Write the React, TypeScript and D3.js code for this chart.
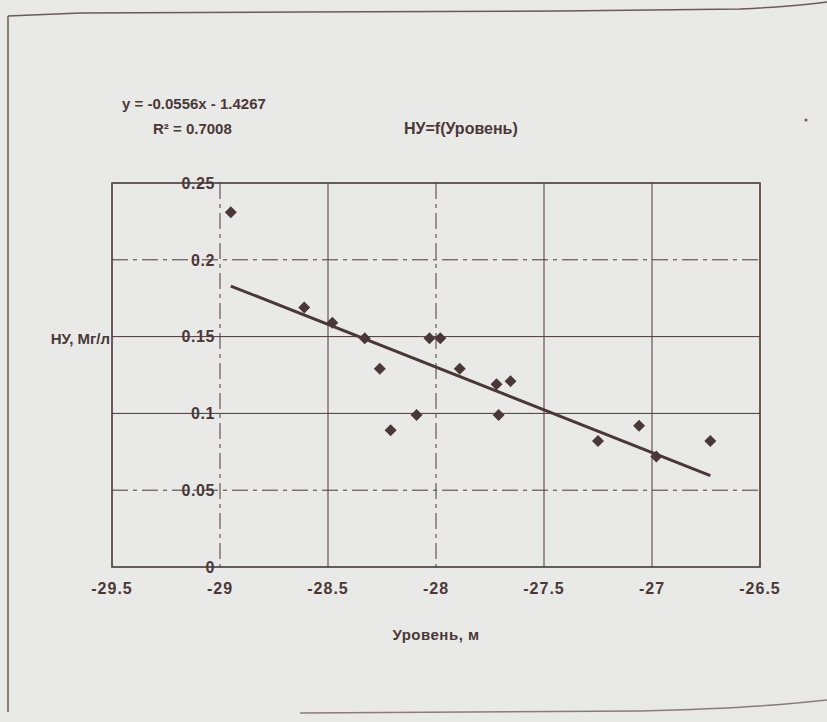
import React from "react";
import * as d3 from "d3";

const xTicks = [-29.5, -29, -28.5, -28, -27.5, -27, -26.5];
const yTicks = [0, 0.05, 0.1, 0.15, 0.2, 0.25];
const levels = [-28.95, -28.61, -28.48, -28.33, -28.26, -28.21, -28.09, -28.03, -27.98, -27.89, -27.72, -27.655, -27.71, -27.25, -27.06, -26.98, -26.73];
const nuValues = [0.231, 0.169, 0.159, 0.149, 0.129, 0.089, 0.099, 0.149, 0.149, 0.129, 0.119, 0.121, 0.099, 0.082, 0.092, 0.072, 0.082];
const slope = -0.0556;
const intercept = -1.4267;
const equationText = "y = -0.0556x - 1.4267";
const r2Text = "R² = 0.7008";
const titleText = "НУ=f(Уровень)";
const xTitle = "Уровень, м";
const yTitle = "НУ, Мг/л";
const dashedY = [0.05, 0.2];
const dashedX = [-29, -28];

const W = 827;
const H = 722;
const ink = "#4a3838";
const font = "'Liberation Sans', Arial, sans-serif";

export default function App() {
  const left = 112, right = 760, top = 183, bottom = 567;
  const x = d3.scaleLinear().domain([-29.5, -26.5]).range([left, right]);
  const y = d3.scaleLinear().domain([0, 0.25]).range([bottom, top]);
  const xMin = d3.min(levels) as number;
  const xMax = d3.max(levels) as number;
  const trend = d3.line<number>().x((d) => x(d)).y((d) => y(slope * d + intercept))([xMin, xMax]) || "";
  const diamond = d3.symbol().type(d3.symbolSquare).size(72)() || "";
  const yLabelX = x(-29) - 5;

  return (
    <svg width={W} height={H} style={{ position: "absolute", left: 0, top: 0 }} fontFamily={font}>
      <rect x={0} y={0} width={W} height={H} fill="#e9e9e7" />
      {/* page frame */}
      <path d="M8,16 L80,13 L300,12 L560,11 L740,9 Q800,6 827,2" fill="none" stroke="#6a5a5a" strokeWidth={1.5} />
      <line x1={8} y1={16} x2={8} y2={712} stroke="#6a5a5a" strokeWidth={1.5} />
      <path d="M300,713 L640,711 Q760,708 827,700" fill="none" stroke="#8a7c7c" strokeWidth={1.5} />
      <circle cx={806} cy={120} r={1.5} fill="#6a5a5a" />

      {/* gridlines */}
      {yTicks.filter((t) => t > 0 && t < 0.25).map((t) => (
        <line key={"gy" + t} x1={left} x2={right} y1={y(t)} y2={y(t)} stroke={ink} strokeWidth={1}
          strokeDasharray={dashedY.includes(t) ? "16 5 4 5" : undefined} />
      ))}
      {xTicks.filter((t) => t > -29.5 && t < -26.5).map((t) => (
        <line key={"gx" + t} x1={x(t)} x2={x(t)} y1={top} y2={bottom} stroke={ink} strokeWidth={1}
          strokeDasharray={dashedX.includes(t) ? "16 5 4 5" : undefined} />
      ))}
      {/* plot frame */}
      <rect x={left} y={top} width={right - left} height={bottom - top} fill="none" stroke={ink} strokeWidth={1.6} />

      {/* trendline */}
      <path d={trend} fill="none" stroke={ink} strokeWidth={3} />

      {/* points */}
      {levels.map((lv, i) => (
        <path key={i} d={diamond} transform={`translate(${x(lv)},${y(nuValues[i])}) rotate(45)`} fill={ink} />
      ))}

      {/* y tick labels */}
      {yTicks.map((t) => (
        <text key={"ty" + t} x={yLabelX} y={y(t)} dy="0.36em" textAnchor="end" fontSize={16} fontWeight="bold" letterSpacing={0.6} fill={ink}>
          {String(t)}
        </text>
      ))}
      {/* x tick labels */}
      {xTicks.map((t) => (
        <text key={"tx" + t} x={x(t)} y={bottom + 27} textAnchor="middle" fontSize={16} fontWeight="bold" letterSpacing={1} fill={ink}>
          {String(t)}
        </text>
      ))}

      <text x={436} y={640} textAnchor="middle" fontSize={15} fontWeight="bold" letterSpacing={0.5} fill={ink}>{xTitle}</text>
      <text x={110} y={344} textAnchor="end" fontSize={15} fontWeight="bold" fill={ink}>{yTitle}</text>
      <text x={404} y={134} fontSize={16} fontWeight="bold" fill={ink}>{titleText}</text>
      <text x={122} y={109} fontSize={15} fontWeight="bold" fill={ink}>{equationText}</text>
      <text x={153} y={134} fontSize={15} fontWeight="bold" fill={ink}>{r2Text}</text>
    </svg>
  );
}
